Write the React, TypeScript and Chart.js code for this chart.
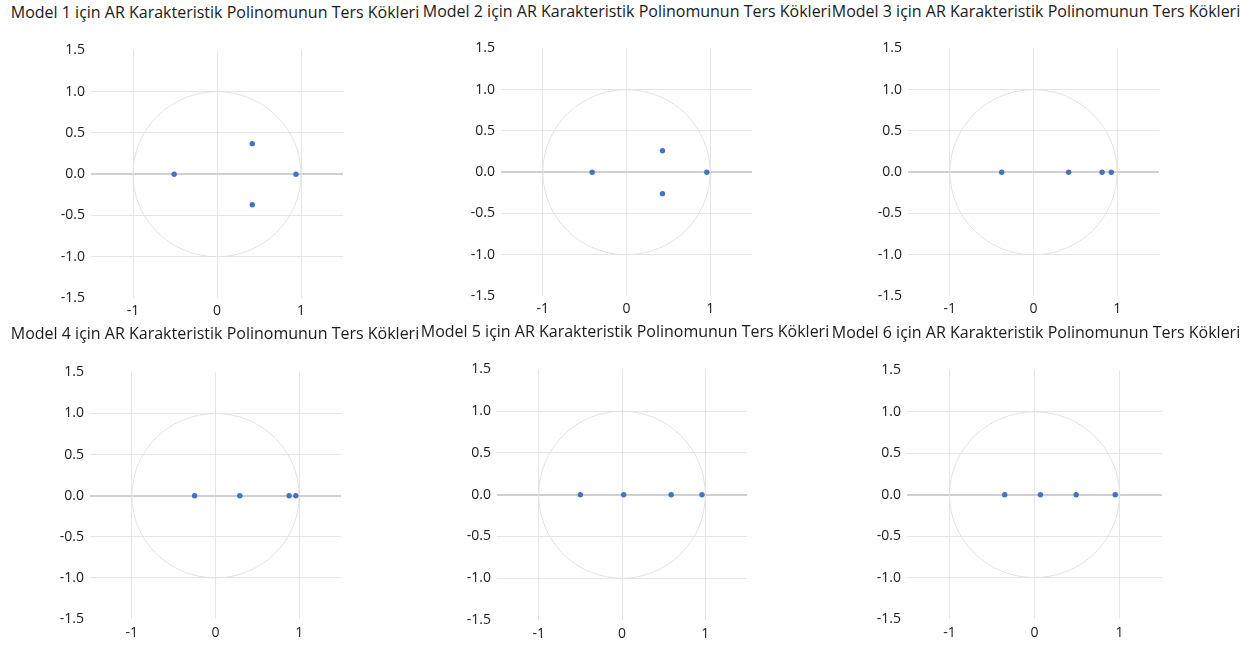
import React, { useEffect, useRef } from "react";
import { Chart, registerables } from "chart.js";

Chart.register(...registerables);

// ---- data ----
const TITLES = [
  "Model 1 için AR Karakteristik Polinomunun Ters Kökleri",
  "Model 2 için AR Karakteristik Polinomunun Ters Kökleri",
  "Model 3 için AR Karakteristik Polinomunun Ters Kökleri",
  "Model 4 için AR Karakteristik Polinomunun Ters Kökleri",
  "Model 5 için AR Karakteristik Polinomunun Ters Kökleri",
  "Model 6 için AR Karakteristik Polinomunun Ters Kökleri",
];

const MODEL1_RE = [-0.51, 0.42, 0.42, 0.94];
const MODEL1_IM = [0, 0.37, -0.37, 0];
const MODEL2_RE = [-0.41, 0.43, 0.43, 0.96];
const MODEL2_IM = [0, 0.26, -0.26, 0];
const MODEL3_RE = [-0.38, 0.42, 0.82, 0.93];
const MODEL3_IM = [0, 0, 0, 0];
const MODEL4_RE = [-0.25, 0.29, 0.88, 0.96];
const MODEL4_IM = [0, 0, 0, 0];
const MODEL5_RE = [-0.5, 0.02, 0.59, 0.96];
const MODEL5_IM = [0, 0, 0, 0];
const MODEL6_RE = [-0.35, 0.07, 0.49, 0.95];
const MODEL6_IM = [0, 0, 0, 0];

const X_TICKS = [-1, 0, 1];
const Y_TICKS = [-1.5, -1, -0.5, 0, 0.5, 1, 1.5];
const AXIS_MIN = -1.5;
const AXIS_MAX = 1.5;
const UNIT_CIRCLE_RADIUS = 1;

const MODELS = [
  { re: MODEL1_RE, im: MODEL1_IM },
  { re: MODEL2_RE, im: MODEL2_IM },
  { re: MODEL3_RE, im: MODEL3_IM },
  { re: MODEL4_RE, im: MODEL4_IM },
  { re: MODEL5_RE, im: MODEL5_IM },
  { re: MODEL6_RE, im: MODEL6_IM },
];

// ---- layout (page pixels) ----
const PLOTS = [
  { l: 91, t: 48, w: 252, h: 250, titleX: 215, titleY: 12, xPad: 5 },
  { l: 501, t: 46, w: 251, h: 250, titleX: 627, titleY: 11, xPad: 5 },
  { l: 908, t: 46, w: 251, h: 250, titleX: 1036, titleY: 11, xPad: 5 },
  { l: 90, t: 370, w: 251, h: 249, titleX: 215, titleY: 333, xPad: 6 },
  { l: 497, t: 367, w: 250, h: 253, titleX: 625, titleY: 331, xPad: 6 },
  { l: 907, t: 368, w: 255, h: 251, titleX: 1036, titleY: 332, xPad: 6 },
];

const YW = 60;
const PAD_T = 12;
const PAD_R = 12;
const XH = 30;

const FONT = "'Open Sans', 'Noto Sans', sans-serif";
const POINT_COLOR = "#4472C4";
const GRID_COLOR = "#e6e6e6";
const ZERO_COLOR = "#d0d0d0";
const CIRCLE_COLOR = "#e2e2e2";
const TEXT_COLOR = "#1a1a1a";

const unitCirclePlugin = {
  id: "unitCircle",
  beforeDatasetsDraw(chart: any) {
    const x = chart.scales.x;
    const y = chart.scales.y;
    const cx = x.getPixelForValue(0);
    const cy = y.getPixelForValue(0);
    const rx = x.getPixelForValue(UNIT_CIRCLE_RADIUS) - cx;
    const ry = cy - y.getPixelForValue(UNIT_CIRCLE_RADIUS);
    const ctx = chart.ctx;
    ctx.save();
    ctx.strokeStyle = CIRCLE_COLOR;
    ctx.lineWidth = 1;
    ctx.beginPath();
    ctx.ellipse(cx, cy, rx, ry, 0, 0, Math.PI * 2);
    ctx.stroke();
    ctx.restore();
  },
};

function Panel({ idx }: { idx: number }) {
  const ref = useRef<HTMLCanvasElement | null>(null);
  const p = PLOTS[idx];
  const cw = YW + p.w + PAD_R;
  const ch = PAD_T + p.h + XH;
  useEffect(() => {
    if (!ref.current) return;
    const m = MODELS[idx];
    const pts = m.re.map((r, i) => ({ x: r, y: m.im[i] }));
    const chart = new Chart(ref.current, {
      type: "scatter",
      data: {
        datasets: [
          {
            data: pts,
            pointRadius: 2.7,
            pointHoverRadius: 2.7,
            backgroundColor: POINT_COLOR,
            borderColor: POINT_COLOR,
            borderWidth: 0,
            showLine: false,
          },
        ],
      },
      options: {
        responsive: false,
        animation: false,
        layout: { padding: { top: PAD_T, right: PAD_R, left: 0, bottom: 0 } },
        plugins: {
          legend: { display: false },
          tooltip: { enabled: false },
          title: { display: false },
        },
        scales: {
          x: {
            type: "linear",
            min: AXIS_MIN,
            max: AXIS_MAX,
            afterBuildTicks: (s: any) => {
              s.ticks = X_TICKS.map((v) => ({ value: v }));
            },
            afterFit: (s: any) => {
              s.height = XH;
            },
            ticks: {
              color: TEXT_COLOR,
              font: { family: FONT, size: 14 },
              padding: p.xPad,
              maxRotation: 0,
              callback: (v: any) => String(v),
            },
            grid: { color: GRID_COLOR, lineWidth: 1, drawTicks: false },
            border: { display: false },
          },
          y: {
            type: "linear",
            min: AXIS_MIN,
            max: AXIS_MAX,
            afterBuildTicks: (s: any) => {
              s.ticks = Y_TICKS.map((v) => ({ value: v }));
            },
            afterFit: (s: any) => {
              s.width = YW;
            },
            ticks: {
              color: TEXT_COLOR,
              font: { family: FONT, size: 14 },
              padding: 6,
              callback: (v: any) => Number(v).toFixed(1),
            },
            grid: {
              drawTicks: false,
              color: (c: any) => {
                const v = c.tick ? c.tick.value : null;
                if (v === AXIS_MIN || v === AXIS_MAX) return "rgba(0,0,0,0)";
                if (v === 0) return ZERO_COLOR;
                return GRID_COLOR;
              },
              lineWidth: (c: any) => (c.tick && c.tick.value === 0 ? 2 : 1),
            },
            border: { display: false },
          },
        },
      },
      plugins: [unitCirclePlugin],
    });
    return () => chart.destroy();
  }, [idx]);
  return (
    <>
      <div
        style={{
          position: "absolute",
          left: p.titleX - 260,
          width: 520,
          top: p.titleY - 11,
          height: 22,
          lineHeight: "22px",
          textAlign: "center",
          fontFamily: FONT,
          fontSize: 16,
          color: TEXT_COLOR,
          whiteSpace: "nowrap",
        }}
      >
        {TITLES[idx]}
      </div>
      <canvas
        ref={ref}
        width={cw}
        height={ch}
        style={{ position: "absolute", left: p.l - YW, top: p.t - PAD_T, width: cw, height: ch }}
      />
    </>
  );
}

export default function App() {
  return (
    <div style={{ position: "absolute", left: 0, top: 0, width: 1254, height: 647, background: "#fff", overflow: "hidden" }}>
      {PLOTS.map((_, i) => (
        <Panel key={i} idx={i} />
      ))}
    </div>
  );
}
